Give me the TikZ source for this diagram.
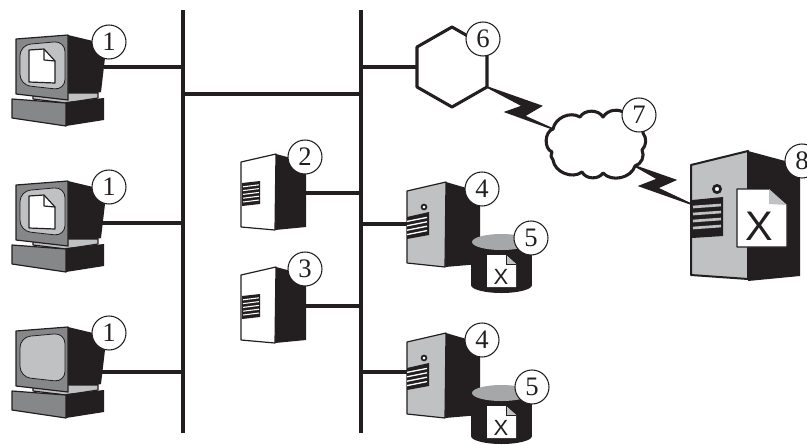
\documentclass[tikz,border=0pt]{standalone}
\usepackage{fontspec}
\setmainfont{Liberation Serif}
\newfontfamily\xfont{Liberation Sans}
\usetikzlibrary{positioning}

\definecolor{inkblack}{HTML}{231F20}
\definecolor{lightgrey}{HTML}{C0C1C3}
\definecolor{midgrey}{HTML}{858789}

\tikzset{
    bus/.style={line width=3.6pt, color=inkblack},
    link/.style={line width=3.5pt, color=inkblack},
    outline/.style={line width=2.3pt, color=inkblack, line join=round},
    edge/.style={draw=inkblack, line width=0.9pt, line join=round},
    bolt/.style={fill=inkblack, draw=inkblack, line width=1.2pt, line join=miter},
    badge/.style={circle, draw=inkblack, fill=white, line width=0.8pt, minimum size=25.5pt, inner sep=0pt, font=\fontsize{20}{22}\selectfont, text=inkblack},
    pics/monitor/.style={code={
        \fill[inkblack] (68,35) -- (93,41) -- (105,58) -- (101,92) -- (68,100) -- cycle;
        \draw[edge, fill=lightgrey] (33,93) -- (33,99) -- (66,103) -- (98,98) -- (98,93) -- cycle;
        \draw[edge, fill=midgrey] (12,99) -- (12,118) -- (66,126) -- (66,103) -- cycle;
        \fill[inkblack] (66,102) -- (104,98) -- (104,120) -- (66,126) -- cycle;
        \draw[edge, fill=midgrey] (16,39) -- (68,35) -- (68,100) -- (16,94) -- cycle;
        \draw[draw=inkblack, line width=0.6pt, fill=lightgrey, rounded corners=8pt] (20,45) -- (65,41) -- (65,90) -- (20,85) -- cycle;
    }},
    pics/monfile/.style={code={
        \draw[edge, fill=white] (29,50) -- (44,49) -- (55,61) -- (55,83) -- (29,82) -- cycle;
        \draw[edge] (44,49) -- (44,60) -- (55,61);
    }},
    pics/minitower/.style={code={
        \fill[inkblack] (276,154) -- (306,162) -- (306,227) -- (275,230) -- cycle;
        \draw[edge, fill=white] (241,162) -- (276,154) -- (275,230) -- (241,227) -- cycle;
        \fill[inkblack] (242,183) -- (260,181) -- (260,204) -- (242,206) -- cycle;
        \foreach \k in {1,...,5}
            \draw[white, line width=0.8pt] (243,{183+\k*3.8}) -- (259,{181+\k*3.8});
    }},
    pics/tower/.style={code={
        \fill[inkblack] (446,182) -- (480,192) -- (480,264) -- (445,267) -- cycle;
        \draw[edge, fill=lightgrey] (407,191) -- (446,182) -- (445,267) -- (407,263) -- cycle;
        \fill[inkblack] (407,217) -- (429,212) -- (429,235) -- (407,239) -- cycle;
        \foreach \k in {1,...,4}
            \draw[white, line width=1pt] (407,{217+\k*4.4}) -- (427,{213+\k*4.4});
        \draw[inkblack, fill=white, line width=1.3pt] (424,207) circle[radius=2.4];
    }},
    pics/disk/.style={code={
        \fill[inkblack] (471,242) rectangle (532,285);
        \fill[inkblack] (501.5,285) ellipse[x radius=30.5, y radius=8];
        \fill[midgrey!45!lightgrey] (501.5,242) ellipse[x radius=29.5, y radius=8];
        \fill[white] (487,255) -- (506,255) -- (516,264) -- (516,287) -- (487,287) -- cycle;
        \fill[lightgrey] (506,255) -- (506,264) -- (516,264) -- cycle;
        \draw[inkblack, line width=0.5pt] (506,255) -- (506,264) -- (516,264);
        \node[text=inkblack, font=\xfont\fontsize{16.5}{18}\selectfont] at (501,277) {X};
    }}
}

\begin{document}
\begin{tikzpicture}[x=0.75pt, y=-0.75pt]

\pgfdeclarelayer{bg}    % links go under the machines
\pgfsetlayers{bg,main}

\useasboundingbox (0,0) rectangle (807,444);

% buses
\coordinate (leftbustop) at (183,10);
\coordinate (leftbusbot) at (183,433);
\coordinate (rightbustop) at (361,10);
\coordinate (rightbusbot) at (361,433);
\coordinate (crossbar) at (183,94);

% machines
\pic at (0,0) {monitor};
\pic at (0,0) {monfile};
\pic at (0,146) {monitor};
\pic at (0,146) {monfile};
\pic at (0,292) {monitor};
\pic at (0,0) {minitower};
\pic at (0,113) {minitower};
\pic at (0,0) {tower};
\pic at (0,0) {disk};
\pic at (0,151) {tower};
\pic at (0,151) {disk};

\coordinate (monAport) at (104,67);
\coordinate (monBport) at (102,223);
\coordinate (monCport) at (102,372);
\coordinate (miniAport) at (305,193);
\coordinate (miniBport) at (305,306);
\coordinate (towerAport) at (408,224);
\coordinate (towerBport) at (408,372);
\coordinate (hexport) at (417,67);

% router
\coordinate (hexout) at (487,87);
\draw[outline, fill=white] (417,47) -- (452,27) -- (487,47) -- (hexout) -- (452,107) -- (417,87) -- cycle;

% wan cloud
\coordinate (cloudin) at (553,129);
\coordinate (cloudout) at (635,166);
\draw[outline, fill=white] (cloudin)
    to[bend left=55] (580,117) to[bend left=60] (603,117) to[bend left=50] (626,114)
    to[bend left=60] (643,133) to[bend left=40] (642,150) to[bend left=50] (cloudout)
    to[bend left=60] (603,173) to[bend left=60] (582,172) to[bend left=60] (553,160)
    to[bend left=40] (552,152) to[bend left=70] cycle;

% server with the file
\coordinate (bigport) at (691,204);
\fill[inkblack] (748,151) -- (800,165) -- (800,276) -- (748,281) -- cycle;
\draw[edge, line width=1.5pt, fill=lightgrey] (691,165) -- (748,151) -- (748,279) -- (691,275) -- cycle;
\fill[inkblack] (692,200) -- (723,197) -- (723,236) -- (692,238) -- cycle;
\foreach \k in {1,...,4}
    \draw[lightgrey, line width=2pt] (693,{200+\k*7}) -- (721,{198+\k*7});
\draw[inkblack, fill=white, line width=2pt] (717,189) circle[radius=3.6];
\draw[edge, fill=white] (737,189) -- (769,189) -- (787,205) -- (787,247) -- (737,247) -- cycle;
\fill[lightgrey] (769,189) -- (769,204) -- (787,205) -- cycle;
\node (bigfile)[text=inkblack, font=\xfont\fontsize{31}{33}\selectfont] at (759,226) {X};

% wires
\begin{pgfonlayer}{bg}
\draw[bus] (leftbustop) -- (leftbusbot);
\draw[bus] (rightbustop) -- (rightbusbot);
\draw[bus] (crossbar) -- (rightbustop |- crossbar);
\draw[link] (monAport) -- (leftbustop |- monAport);
\draw[link] (monBport) -- (leftbustop |- monBport);
\draw[link] (monCport) -- (leftbustop |- monCport);
\draw[link] (miniAport) -- (rightbustop |- miniAport);
\draw[link] (miniBport) -- (rightbustop |- miniBport);
\draw[link] (towerAport) -- (rightbustop |- towerAport);
\draw[link] (towerBport) -- (rightbustop |- towerBport);
\draw[link] (hexport) -- (rightbustop |- hexport);
\end{pgfonlayer}

% lightning links
\draw[bolt] (hexout) -- (541,106) -- (524,116) -- (cloudin) -- (506,112) -- (523,106) -- cycle;
\draw[bolt] (cloudout) -- (675,180) -- (657,188) -- (bigport) -- (640,186) -- (658,179) -- cycle;

% numbers
\node (oneA)[badge] at (109,42) {1};
\node (oneB)[badge] at (109,187) {1};
\node (oneC)[badge] at (109,333) {1};
\node (two)[badge] at (305,157) {2};
\node (three)[badge] at (305,269) {3};
\node (fourA)[badge] at (482,189) {4};
\node (fiveA)[badge] at (531,238) {5};
\node (fourB)[badge] at (482,340) {4};
\node (fiveB)[badge] at (532,387) {5};
\node (six)[badge] at (483,39) {6};
\node (seven)[badge] at (639,115) {7};
\node (eight)[badge] at (802,161) {8};

\end{tikzpicture}
\end{document}
